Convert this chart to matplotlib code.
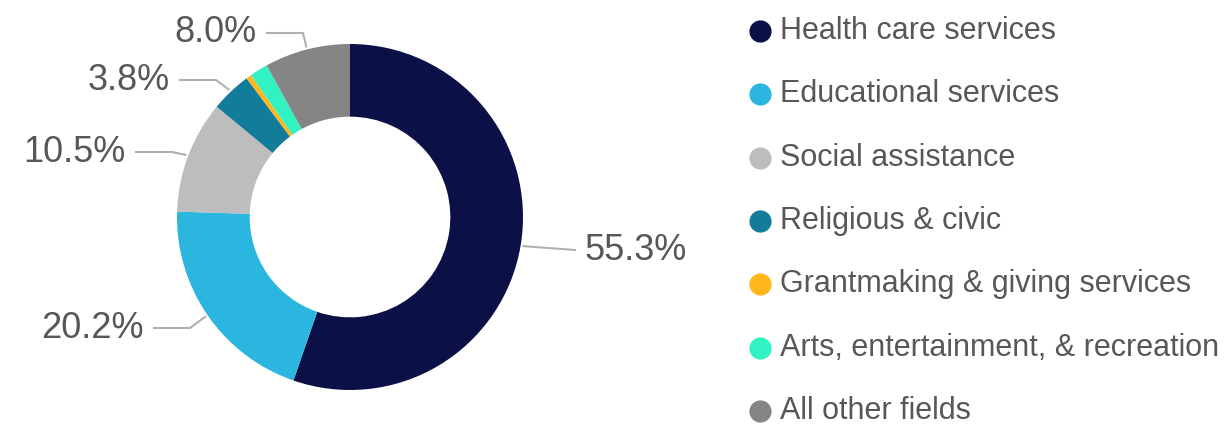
import numpy as np
import matplotlib
matplotlib.use("Agg")
import matplotlib.pyplot as plt

# data
categories = ["Health care services", "Educational services", "Social assistance",
              "Religious & civic", "Grantmaking & giving services",
              "Arts, entertainment, & recreation", "All other fields"]
shares = [55.3, 20.2, 10.5, 3.8, 0.5, 1.7, 8.0]
colors = ["#0b1046", "#2bb6e0", "#bdbdbd", "#137c9b", "#ffb71b", "#30f2c2", "#858585"]
show_label = [True, True, True, True, False, False, True]

plt.rcParams['font.family'] = ['Liberation Sans', 'DejaVu Sans']
TXT = "#575757"
LINE = "#b0b0b0"

W, H = 1230, 426
fig = plt.figure(figsize=(W / 100, H / 100), dpi=100)
ax = fig.add_axes([0, 0, 1, 1])
ax.set_xlim(0, W)
ax.set_ylim(0, H)
ax.set_aspect('equal')
ax.axis('off')

cx, cy, r = 350, H - 217, 173
wedges, _ = ax.pie(shares, colors=colors, startangle=90, counterclock=False,
                   radius=r, center=(cx, cy), wedgeprops=dict(width=r * 0.42, linewidth=0))
ax.set_xlim(0, W)
ax.set_ylim(0, H)

# label elbow / text positions (pixels, y from top)
label_pos = {0: (575, 250, 'left'), 1: (190, 328, 'right'), 2: (172, 152, 'right'),
             3: (216, 80, 'right'), 6: (303, 33, 'right')}
for i, w in enumerate(wedges):
    if not show_label[i]:
        continue
    ang = np.deg2rad((w.theta1 + w.theta2) / 2)
    ax_x = cx + (r + 3) * np.cos(ang)
    ax_y = cy + (r + 3) * np.sin(ang)
    ex, ey, ha = label_pos[i]
    ey = H - ey
    if ha == 'left':
        ax.plot([ax_x, ex], [ax_y, ey], color=LINE, lw=1.5)
        ax.text(ex + 10, ey, f"{shares[i]:.1f}%", ha='left', va='center',
                fontsize=26, color=TXT)
    else:
        ax.plot([ax_x, ex, ex - 36], [ax_y, ey, ey], color=LINE, lw=1.5)
        ax.text(ex - 46, ey, f"{shares[i]:.1f}%", ha='right', va='center',
                fontsize=26, color=TXT)

# legend
for i, (name, c) in enumerate(zip(categories, colors)):
    y = H - (31 + 63.3 * i)
    ax.plot(760, y, 'o', ms=16, color=c, mec='none')
    ax.text(780, y, name, ha='left', va='center', fontsize=22, color=TXT)

fig.savefig("out.png", dpi=100, facecolor='white')
